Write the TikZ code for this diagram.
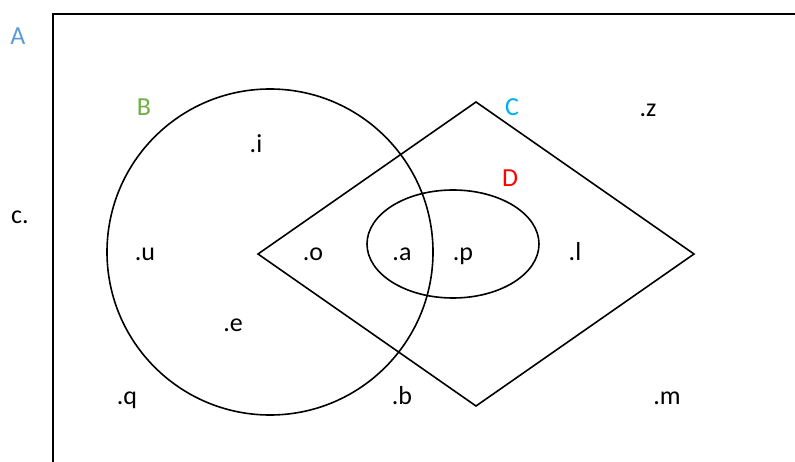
\documentclass[tikz,border=0pt]{standalone}
\usepackage{fontspec}
\setmainfont{Carlito}
\usetikzlibrary{shapes.geometric}
\definecolor{clrA}{HTML}{5B9BD5}
\definecolor{clrB}{HTML}{70AD47}
\definecolor{clrC}{HTML}{00B0F0}
\definecolor{clrD}{HTML}{FF0000}
\begin{document}
\begin{tikzpicture}[x=1pt,y=-1pt,
  lbl/.style={inner sep=0pt, anchor=base, font=\fontsize{26}{30}\selectfont},
  setline/.style={draw=black, line width=1.6pt}]
\useasboundingbox (0,0) rectangle (795,462);
\begin{scope}
\clip (0,0) rectangle (795,462);
\draw[line width=2pt] (53,14) rectangle (820,490);
\end{scope}
% set B
\node[setline, circle, minimum size=326pt, inner sep=0pt] (setB) at (270,252) {};
% set C (diamond)
\coordinate (cL) at (258,254);
\coordinate (cT) at (476,102);
\coordinate (cR) at (694,254);
\coordinate (cB) at (476,406);
\draw[setline, line join=miter] (cL) -- (cT) -- (cR) -- (cB) -- cycle;
% set D
\node[setline, ellipse, minimum width=172pt, minimum height=108pt, inner sep=0pt] (setD) at (453,244) {};
% set labels
\node[lbl, text=clrA] (lA) at (18,45) {A};
\node[lbl, text=clrB] (lB) at (144,116) {B};
\node[lbl, text=clrC] (lC) at (512,116) {C};
\node[lbl, text=clrD] (lD) at (510,187) {D};
% elements
\node[lbl] (ez) at (648,117) {.z};
\node[lbl] (ei) at (256,153) {.i};
\node[lbl] (ec) at (20,224) {c.};
\node[lbl] (eu) at (145,261) {.u};
\node[lbl] (eo) at (313,261) {.o};
\node[lbl] (ea) at (402,261) {.a};
\node[lbl] (ep) at (463,261) {.p};
\node[lbl] (el) at (575,261) {.l};
\node[lbl] (ee) at (233,331) {.e};
\node[lbl] (eq) at (127,404) {.q};
\node[lbl] (eb) at (402,404) {.b};
\node[lbl] (em) at (667,404) {.m};
\end{tikzpicture}
\end{document}
